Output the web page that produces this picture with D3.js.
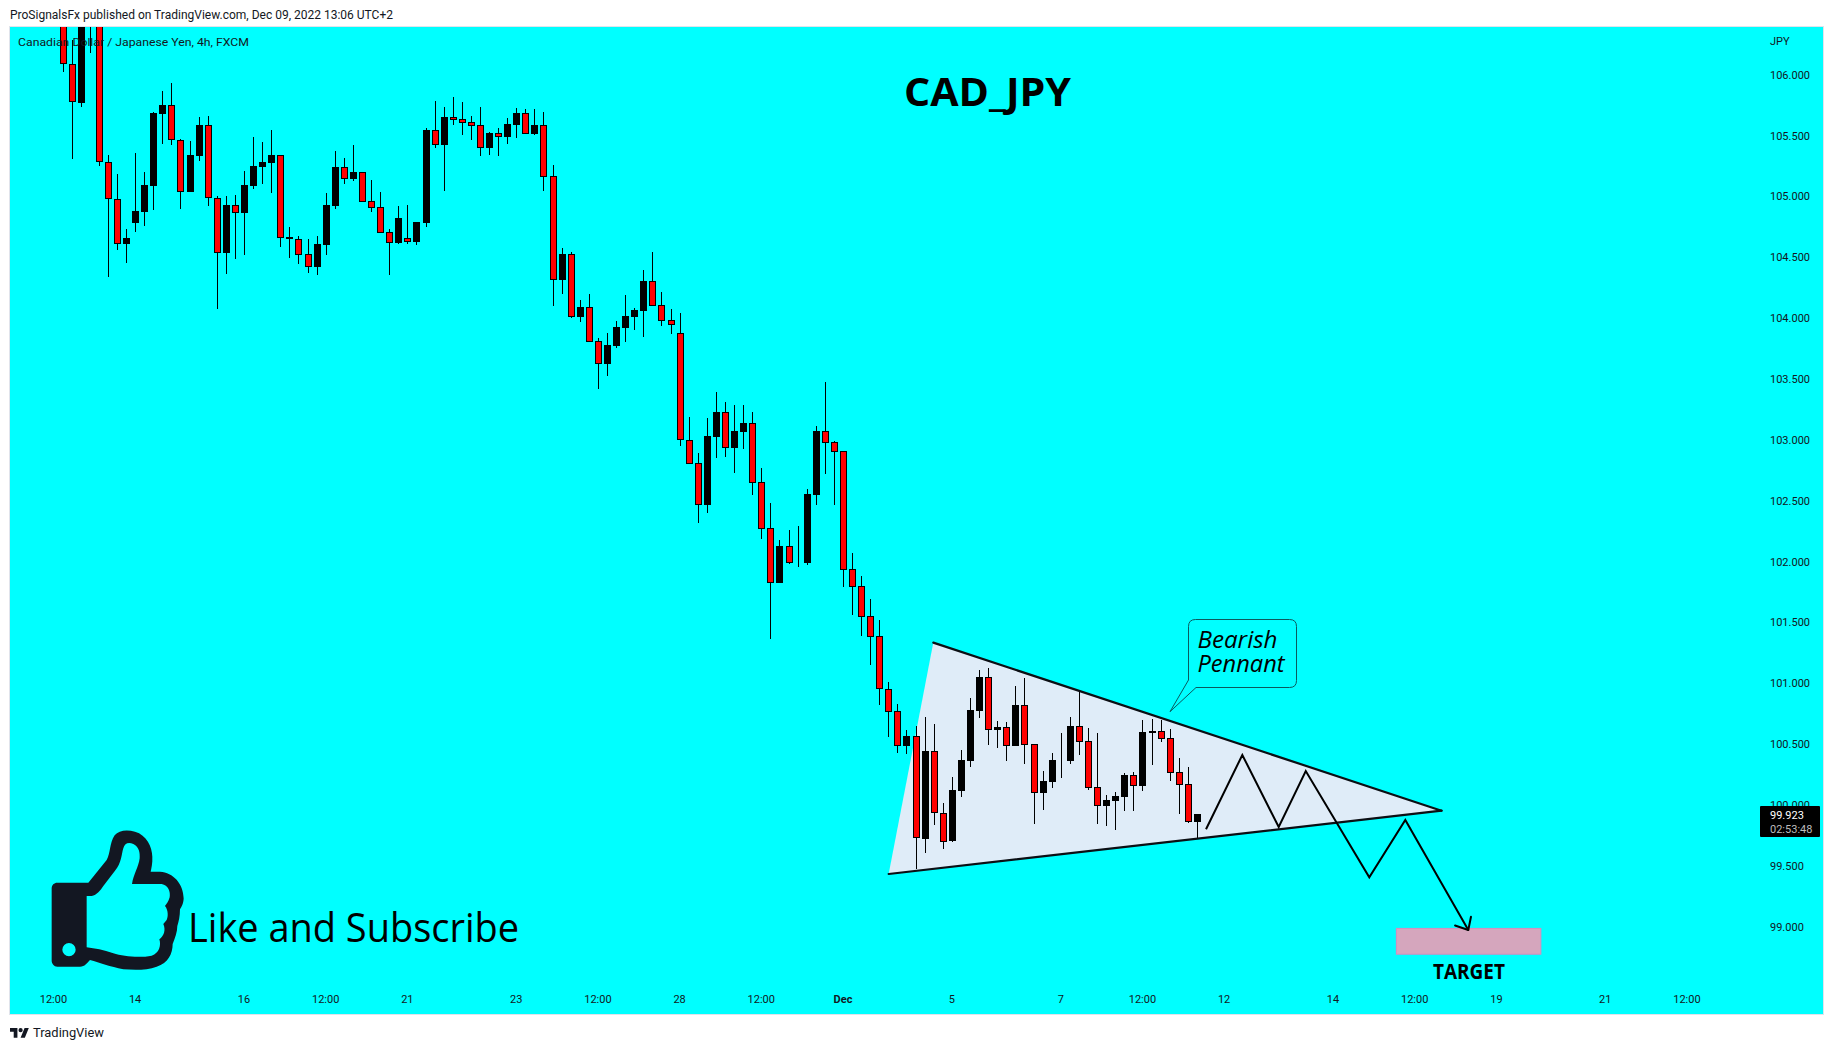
<!DOCTYPE html>
<html><head><meta charset="utf-8">
<script src="https://cdn.jsdelivr.net/npm/d3@7/dist/d3.min.js"></script>
<style>
html,body{margin:0;padding:0;background:#fff;overflow:hidden}
svg{display:block}
text{font-family:Roboto,sans-serif;fill:#131722}
</style></head><body>
<svg id="c" width="1834" height="1050"></svg>
<script>
const opens=[106.5,106.085,105.770,106.45,106.75,105.280,104.976,104.612,104.784,104.875,
105.088,105.680,105.748,105.461,105.039,105.335,105.587,104.984,104.538,104.929,
104.866,105.085,105.244,105.274,105.340,104.667,104.650,104.527,104.420,104.601,
104.921,105.242,105.143,105.200,104.962,104.913,104.708,104.617,104.658,104.626,
104.782,105.546,105.425,105.652,105.636,105.611,105.587,105.400,105.521,105.488,
105.587,105.685,105.513,105.587,105.165,104.313,104.527,104.009,104.092,103.812,
103.623,103.771,103.919,104.009,104.059,104.305,104.108,103.985,103.878,102.996,
102.807,102.468,103.024,103.229,102.933,103.065,103.139,102.654,102.276,101.827,
102.128,101.991,101.989,102.547,103.073,102.983,102.909,101.939,101.800,101.553,
101.389,100.951,100.770,100.488,100.565,99.724,100.441,99.932,99.705,100.116,
100.362,100.773,101.050,100.619,100.639,100.486,100.820,100.499,100.099,100.190,
100.362,100.362,100.647,100.524,100.146,99.992,100.034,100.066,100.244,100.157,
100.595,100.606,100.548,100.269,100.170,99.861];
const closes=[106.085,105.773,106.45,106.75,105.280,104.976,104.612,104.658,104.880,105.094,
105.685,105.748,105.461,105.039,105.340,105.587,104.984,104.538,104.929,104.866,
105.094,105.250,105.283,105.340,104.661,104.647,104.519,104.423,104.609,104.929,
105.242,105.143,105.200,104.954,104.908,104.702,104.620,104.823,104.628,104.790,
105.546,105.425,105.652,105.628,105.606,105.581,105.400,105.521,105.491,105.595,
105.685,105.515,105.587,105.162,104.316,104.527,104.012,104.092,103.807,103.623,
103.779,103.927,104.018,104.067,104.305,104.100,103.977,103.944,102.996,102.805,
102.468,103.032,103.229,102.936,103.073,103.139,102.648,102.271,101.827,102.128,
101.991,101.997,102.555,103.073,102.977,102.903,101.931,101.794,101.548,101.384,
100.951,100.767,100.488,100.568,99.727,100.444,99.932,99.694,100.124,100.370,
100.781,101.052,100.619,100.641,100.488,100.822,100.496,100.102,100.198,100.370,
100.367,100.650,100.521,100.143,99.995,100.042,100.075,100.247,100.160,100.600,
100.606,100.546,100.266,100.168,99.861,99.923];
const highs=[106.6,106.285,106.6,106.9,106.8,105.340,105.184,104.732,105.354,105.198,
105.693,105.866,105.932,105.472,105.455,105.652,105.660,105.001,105.003,105.012,
105.209,105.488,105.447,105.546,105.340,104.749,104.675,104.650,104.675,105.028,
105.373,105.316,105.422,105.200,105.135,105.036,104.732,104.921,104.929,104.790,
105.562,105.784,105.734,105.817,105.776,105.660,105.734,105.529,105.562,105.644,
105.726,105.718,105.718,105.693,105.258,104.576,104.543,104.149,104.198,103.837,
103.878,103.977,104.190,104.083,104.395,104.543,104.215,104.075,104.039,103.188,
102.892,103.180,103.393,103.311,103.287,103.287,103.229,102.769,102.482,102.178,
102.260,102.293,102.596,103.114,103.475,102.991,102.909,102.071,101.882,101.693,
101.520,101.011,100.830,100.617,100.650,100.724,100.666,100.017,100.231,100.452,
100.880,101.110,101.126,100.691,100.683,100.978,101.044,100.499,100.280,100.428,
100.592,100.724,100.929,100.633,100.592,100.083,100.107,100.264,100.272,100.699,
100.707,100.699,100.625,100.387,100.313,99.927];
const lows=[106.025,105.310,105.737,106.181,105.253,104.341,104.560,104.453,104.708,104.757,
104.888,105.431,105.422,104.897,105.039,105.291,104.921,104.075,104.363,104.486,
104.519,105.061,105.102,105.028,104.584,104.494,104.445,104.371,104.354,104.519,
104.897,105.102,105.127,104.954,104.872,104.702,104.354,104.609,104.609,104.601,
104.749,105.400,105.044,105.587,105.504,105.463,105.332,105.340,105.332,105.431,
105.480,105.515,105.504,105.044,104.100,104.198,104.001,103.968,103.807,103.418,
103.525,103.755,103.804,103.903,103.845,104.100,103.935,103.870,102.950,102.805,
102.317,102.399,102.851,102.859,102.728,102.925,102.547,102.186,101.364,101.827,
101.980,101.956,101.972,102.465,102.720,102.465,101.791,101.561,101.389,101.151,
100.822,100.562,100.428,100.420,99.475,99.606,99.836,99.639,99.697,100.066,
100.313,100.715,100.494,100.469,100.362,100.486,100.337,99.845,99.960,100.140,
100.222,100.337,100.411,100.124,99.845,99.828,99.795,99.951,99.951,100.116,
100.329,100.518,100.198,99.927,99.853,99.721];

const priceTicks=[99,99.5,100,100.5,101,101.5,102,102.5,103,103.5,104,104.5,105,105.5,106];
const timeTickBars=[-1,8,20,29,38,50,59,68,77,86,98,110,119,128,140,149,158,170,179];
const timeTickLabels=["12:00","14","16","12:00","21","23","12:00","28","12:00","Dec","5","7","12:00","12","14","12:00","19","21","12:00"];

// drawing annotations, read as [bar, price]
const pennantFill=[[95.9,101.334],[151.9,99.953],[90.98,99.433]];
const projection=[[125.95,99.801],[129.95,100.411],[133.96,99.819],[136.94,100.279],[143.94,99.406],[147.91,99.877],[154.85,98.973]];
const targetBars=[146.87,162.9];
const targetPrices=[98.99,98.77];
const lastPrice=99.923;

const svg=d3.select("#c");
const plot={l:10,r:1823,t:27,b:1014};
const x=d3.scaleLinear().domain([0,125]).range([63,1197.4]);
const y=d3.scaleLinear().domain([99,106]).range([926.7,74.7]);

svg.append("defs").append("clipPath").attr("id","pc").append("rect")
 .attr("x",plot.l).attr("y",plot.t).attr("width",plot.r-plot.l).attr("height",plot.b-plot.t);
svg.append("rect").attr("x",plot.l-.5).attr("y",plot.t-.5).attr("width",plot.r-plot.l+1).attr("height",plot.b-plot.t+1)
 .attr("fill","#00FFFF").attr("stroke","#E0E3EB");

const g=svg.append("g").attr("clip-path","url(#pc)");
const px=p=>[x(p[0]),y(p[1])];

// pennant fill and target zone sit under the candles
g.append("path").attr("d",d3.line().x(d=>x(d[0])).y(d=>y(d[1]))(pennantFill)+"Z").attr("fill","#DFECF8");
g.append("rect").attr("x",x(targetBars[0])+.5).attr("y",y(targetPrices[0])+.5)
 .attr("width",x(targetBars[1])-x(targetBars[0])-1).attr("height",y(targetPrices[1])-y(targetPrices[0])-1)
 .attr("fill","#D5A6BD").attr("stroke","#D78BC0");

// candles
const idx=d3.range(opens.length);
const wx=i=>Math.floor(x(i))+.5;
const cg=g.append("g");
cg.selectAll("line").data(idx).join("line")
 .attr("x1",wx).attr("x2",wx).attr("y1",i=>Math.round(y(highs[i]))).attr("y2",i=>Math.round(y(lows[i])))
 .attr("stroke","#000").attr("stroke-width",1).attr("shape-rendering","crispEdges");
cg.selectAll("rect").data(idx).join("rect")
 .attr("x",i=>wx(i)-3).attr("width",6)
 .attr("y",i=>Math.round(y(Math.max(opens[i],closes[i])))+.5)
 .attr("height",i=>Math.max(0,Math.round(y(Math.min(opens[i],closes[i])))-Math.round(y(Math.max(opens[i],closes[i])))-1))
 .attr("fill",i=>closes[i]>=opens[i]?"#000":"#FF0000").attr("stroke","#000").attr("stroke-width",1)
 .attr("shape-rendering","crispEdges");

// pennant edges
const edge=(a,b)=>g.append("line").attr("x1",x(a[0])).attr("y1",y(a[1])).attr("x2",x(b[0])).attr("y2",y(b[1]))
 .attr("stroke","#0B0F14").attr("stroke-width",2.2).attr("stroke-linecap","round");
edge(pennantFill[0],pennantFill[1]);
edge(pennantFill[2],pennantFill[1]);

// projected path
g.append("path").attr("d",d3.line().x(d=>x(d[0])).y(d=>y(d[1]))(projection)).attr("fill","none")
 .attr("stroke","#000").attr("stroke-width",2).attr("stroke-linejoin","miter");
const n=projection.length,tip=px(projection[n-1]),prev=px(projection[n-2]);
const ang=Math.atan2(prev[1]-tip[1],prev[0]-tip[0]);
[ -0.72, 0.72 ].forEach((d,k)=>{
  const len=k?13.5:14;
  g.append("line").attr("x1",tip[0]).attr("y1",tip[1])
   .attr("x2",tip[0]+len*Math.cos(ang+d)).attr("y2",tip[1]+len*Math.sin(ang+d))
   .attr("stroke","#000").attr("stroke-width",2).attr("stroke-linecap","round");
});

// axes
const yAxis=d3.axisRight(y).tickValues(priceTicks).tickFormat(d3.format(".3f")).tickSize(0).tickPadding(0);
const ya=svg.append("g").attr("transform","translate(1770,0)").call(yAxis);
ya.select(".domain").remove();
ya.selectAll("text").attr("font-family","Roboto").attr("font-size",11).attr("fill","#131722");
const xAxis=d3.axisBottom(x).tickValues(timeTickBars).tickFormat((d,i)=>timeTickLabels[i]).tickSize(0).tickPadding(0);
const xa=svg.append("g").attr("transform","translate(-1,995)").call(xAxis);
xa.select(".domain").remove();
xa.selectAll("text").attr("font-family","Roboto").attr("font-size",11).attr("fill","#131722")
  .attr("font-weight",d=>d===86?"700":"400");

// texts
const t=(s,xx,yy,o={})=>{const e=svg.append("text").attr("x",xx).attr("y",yy).text(s);
 e.style("font-family",o.f||"Roboto").style("font-size",(o.s||11)+"px").style("fill",o.c||"#131722");
 if(o.w)e.style("font-weight",o.w); if(o.i)e.style("font-style","italic"); if(o.a)e.attr("text-anchor",o.a);
 if(o.l)e.attr("textLength",o.l).attr("lengthAdjust","spacingAndGlyphs"); return e;};
t("ProSignalsFx published on TradingView.com, Dec 09, 2022 13:06 UTC+2",10,19,{s:12,l:383});
t("Canadian Dollar / Japanese Yen, 4h, FXCM",18,46,{s:11,l:231});
t("JPY",1770,45,{s:11});
t("CAD_JPY",904,105.7,{f:"Open Sans",s:40,w:700,c:"#000",l:167});
t("Like and Subscribe",188,941.7,{f:"Open Sans",s:40,c:"#000",l:331});
t("TARGET",1469,979,{f:"Open Sans",s:21,w:700,c:"#000",a:"middle",l:72});
t("TradingView",33,1036.5,{s:12.5,l:71});

// speech bubble
const bubble=()=>{
  const L=1188.5,R=1296.5,T=619.5,B=687.5,r=7,p=d3.path();
  p.moveTo(L+r,T);p.lineTo(R-r,T);p.quadraticCurveTo(R,T,R,T+r);p.lineTo(R,B-r);p.quadraticCurveTo(R,B,R-r,B);
  p.lineTo(1196,B);p.lineTo(1170,711.7);p.lineTo(L,680);p.lineTo(L,T+r);p.quadraticCurveTo(L,T,L+r,T);p.closePath();return p.toString();
};
svg.append("path").attr("d",bubble()).attr("fill","none").attr("stroke","#0A5A5F").attr("stroke-width",1);
t("Bearish",1197.5,647.7,{f:"Open Sans",s:24,i:1,c:"#000",l:80});
t("Pennant",1197.5,671.7,{f:"Open Sans",s:24,i:1,c:"#000",l:87});

// price tag
svg.append("rect").attr("x",1760).attr("y",806).attr("width",60).attr("height",31).attr("rx",1).attr("fill","#000");
t(d3.format(".3f")(lastPrice),1770,819,{s:11,c:"#fff"});
t("02:53:48",1770,833,{s:11,c:"#BDBDBD"});

// thumb icon
svg.append("path").attr("transform","translate(40,820) scale(0.3333)").attr("fill-rule","evenodd").attr("fill","#131722")
 .attr("d","M52 188L145 188L200 120C212 100 208 70 224 46C236 30 262 28 285 35C320 45 336 80 337 110C338 130 334 145 332 155L360 155C400 158 430 190 431 235C431 250 424 262 420 268C420 290 416 305 412 318C412 335 405 355 398 372C398 400 385 430 350 440C320 452 280 450 250 448C210 440 180 428 150 420C140 430 135 440 120 440L52 440C42 440 35 430 35 422L35 205C35 195 42 188 52 188Z"+
 "M140 228L155 228C170 226 182 210 190 198L225 152C245 130 245 100 250 85C254 70 265 66 280 72C298 80 300 100 299 115C296 140 280 165 276 192L365 192C385 196 392 215 389 232C385 245 380 252 375 258C385 270 385 290 380 300L370 312C378 330 372 348 358 358C364 375 358 400 335 407C300 414 250 410 220 400C190 390 165 385 140 382Z"+
 "M67 389a20 20 0 1 0 40 0a20 20 0 1 0 -40 0Z");

// TradingView mark
svg.append("path").attr("transform","translate(10,1026) scale(0.53)").attr("fill","#131722")
 .attr("d","M14 22H7V11H0V4h14v18zM28 22h-8l7.5-18h8L28 22zM24 8a4 4 0 1 1-8 0a4 4 0 0 1 8 0z");
</script></body></html>
